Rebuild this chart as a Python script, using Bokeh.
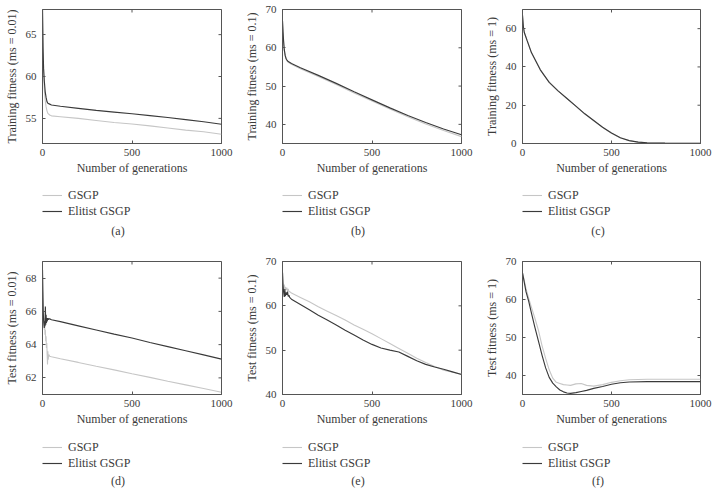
import math
from bokeh.plotting import figure
from bokeh.models import Range1d, FixedTicker, Legend, LegendItem, Label
from bokeh.layouts import row, column
from bokeh.embed import file_html
from bokeh.resources import INLINE

# ---------------- data ----------------
X_TICKS = [0, 500, 1000]
X_LABEL = "Number of generations"
SERIES = ["GSGP", "Elitist GSGP"]

# (a) Training fitness, ms = 0.01
a_gen = [0, 3, 6, 10, 15, 20, 25, 30, 40, 50, 100, 200, 300, 400, 500, 600, 700, 800, 900, 1000]
a_gsgp = [68.0, 63.0, 60.5, 58.5, 57.2, 56.4, 55.9, 55.6, 55.4, 55.3, 55.2, 55.0, 54.75, 54.5, 54.33, 54.1, 53.85, 53.6, 53.4, 53.1]
a_elit = [68.0, 63.5, 61.0, 59.5, 58.2, 57.5, 57.0, 56.8, 56.7, 56.6, 56.45, 56.2, 55.95, 55.75, 55.55, 55.33, 55.1, 54.85, 54.6, 54.3]

# (b) Training fitness, ms = 0.1
b_gen = [0, 3, 6, 10, 15, 20, 25, 30, 50, 100, 200, 300, 400, 500, 600, 700, 800, 900, 1000]
b_gsgp = [67.0, 64.0, 61.5, 59.2, 57.8, 57.0, 56.6, 56.3, 55.7, 54.5, 52.5, 50.4, 48.2, 46.1, 44.0, 42.0, 40.1, 38.4, 36.8]
b_elit = [67.0, 64.2, 61.8, 59.5, 58.0, 57.2, 56.8, 56.5, 55.9, 54.8, 52.8, 50.7, 48.5, 46.4, 44.3, 42.3, 40.5, 38.8, 37.3]

# (c) Training fitness, ms = 1
c_gen = [0, 5, 10, 25, 50, 100, 150, 200, 250, 300, 350, 400, 450, 500, 550, 600, 650, 700, 800, 900, 1000]
c_gsgp = [67.0, 61.0, 58.2, 54.2, 47.6, 38.6, 32.0, 27.4, 23.4, 19.4, 15.4, 11.9, 8.4, 5.4, 2.9, 1.4, 0.7, 0.4, 0.2, 0.1, 0.1]
c_elit = [67.0, 61.0, 58.0, 54.0, 47.5, 38.5, 31.9, 27.5, 23.5, 19.5, 15.5, 12.0, 8.5, 5.5, 3.0, 1.5, 0.7, 0.4, 0.2, 0.1, 0.1]

# (d) Test fitness, ms = 0.01
d_gen = [0, 2, 4, 6, 8, 10, 12, 14, 16, 18, 20, 22, 24, 26, 28, 30, 32, 35, 40, 50, 100, 200, 300, 400, 500, 600, 700, 800, 900, 1000]
d_gsgp = [68.2, 66.8, 65.8, 65.3, 65.6, 64.9, 65.2, 64.6, 64.9, 64.2, 64.5, 63.8, 64.1, 63.4, 62.8, 63.6, 63.1, 63.4, 63.3, 63.27, 63.15, 62.93, 62.7, 62.48, 62.25, 62.03, 61.8, 61.58, 61.36, 61.14]
d_elit = [68.5, 67.2, 66.0, 65.5, 65.2, 65.0, 65.4, 65.1, 66.3, 65.2, 65.8, 65.3, 65.6, 65.4, 65.5, 65.6, 65.5, 65.55, 65.55, 65.5, 65.38, 65.13, 64.88, 64.63, 64.4, 64.13, 63.88, 63.63, 63.38, 63.13]

# (e) Test fitness, ms = 0.1
e_gen = [0, 3, 6, 10, 13, 16, 20, 24, 28, 32, 36, 40, 50, 100, 150, 200, 250, 300, 350, 400, 450, 500, 550, 600, 650, 700, 750, 800, 850, 900, 950, 1000]
e_gsgp = [67.5, 65.0, 64.0, 64.8, 63.5, 64.3, 63.6, 64.1, 63.3, 63.8, 63.2, 63.2, 62.9, 61.9, 60.9, 59.8, 58.8, 57.8, 56.8, 55.7, 54.7, 53.7, 52.6, 51.5, 50.4, 49.3, 48.2, 47.2, 46.3, 45.5, 45.0, 44.6]
e_elit = [67.5, 64.5, 63.2, 62.0, 63.8, 62.2, 63.0, 62.5, 63.2, 62.1, 62.4, 61.9, 61.5, 60.3, 59.1, 57.9, 56.8, 55.7, 54.5, 53.4, 52.3, 51.3, 50.5, 50.0, 49.6, 48.6, 47.6, 46.8, 46.2, 45.7, 45.1, 44.5]

# (f) Test fitness, ms = 1
f_gen = [0, 10, 20, 35, 50, 70, 90, 110, 130, 150, 170, 190, 210, 230, 250, 270, 300, 330, 360, 400, 450, 500, 550, 600, 700, 800, 900, 1000]
f_gsgp = [67.0, 65.0, 62.8, 60.3, 58.0, 55.0, 51.8, 47.8, 44.5, 41.5, 39.3, 38.2, 37.9, 37.6, 37.5, 37.4, 37.8, 37.9, 37.4, 37.2, 37.6, 38.2, 38.6, 38.9, 39.0, 39.0, 39.0, 39.0]
f_elit = [67.0, 64.5, 62.0, 59.5, 56.5, 52.6, 49.0, 45.3, 42.0, 39.5, 38.0, 37.0, 36.2, 35.7, 35.4, 35.3, 35.5, 35.8, 36.1, 36.6, 37.1, 37.7, 38.1, 38.3, 38.4, 38.4, 38.4, 38.4]

PANELS = [
    (a_gen, a_gsgp, a_elit, (52, 68), [55, 60, 65], "Training fitness (ms = 0.01)", "(a)"),
    (b_gen, b_gsgp, b_elit, (35, 70), [40, 50, 60, 70], "Training fitness (ms = 0.1)", "(b)"),
    (c_gen, c_gsgp, c_elit, (0, 70), [0, 20, 40, 60], "Training fitness (ms = 1)", "(c)"),
    (d_gen, d_gsgp, d_elit, (61, 69), [62, 64, 66, 68], "Test fitness (ms = 0.01)", "(d)"),
    (e_gen, e_gsgp, e_elit, (40, 70), [40, 50, 60, 70], "Test fitness (ms = 0.1)", "(e)"),
    (f_gen, f_gsgp, f_elit, (35, 70), [40, 50, 60, 70], "Test fitness (ms = 1)", "(f)"),
]

# ---------------- style ----------------
FONT = "Liberation Serif"
GSGP_COLOR = "#c6c6c6"
ELIT_COLOR = "#3a3a3a"
AXIS_COLOR = "#555555"
TEXT_COLOR = "#3a3a3a"
LEFT = 42
GSGP_W = 1.1
ELIT_W = 1.15


def style_axis(ax, ticks):
    ax.ticker = FixedTicker(ticks=ticks)
    ax.axis_line_color = AXIS_COLOR
    ax.axis_line_width = 1
    ax.major_tick_line_color = AXIS_COLOR
    ax.major_tick_in = 3
    ax.major_tick_out = 0
    ax.minor_tick_line_color = None
    ax.major_label_text_font = FONT
    ax.major_label_text_color = TEXT_COLOR
    ax.major_label_text_font_size = "11px"
    ax.major_label_standoff = 5
    ax.axis_label_text_font = FONT
    ax.axis_label_text_font_size = "12px"
    ax.axis_label_text_font_style = "normal"
    ax.axis_label_text_color = TEXT_COLOR


def make_plot(gen, gsgp, elit, yr, yticks, ylabel, width, top, frame_w, frame_h):
    bottom = 35
    right = width - LEFT - frame_w
    height = top + frame_h + bottom
    p = figure(width=width, height=height, output_backend="svg", toolbar_location=None,
               x_range=Range1d(0, 1000), y_range=Range1d(*yr),
               min_border_left=LEFT, min_border_right=right, min_border_top=top, min_border_bottom=bottom,
               x_axis_label=X_LABEL, y_axis_label=ylabel)
    p.grid.visible = False
    p.outline_line_color = AXIS_COLOR
    p.background_fill_color = "white"
    p.border_fill_color = "white"
    style_axis(p.xaxis[0], X_TICKS)
    style_axis(p.yaxis[0], yticks)
    p.xaxis[0].axis_label_standoff = 2
    p.yaxis[0].axis_label_standoff = 4
    p.yaxis[0].major_label_standoff = 6

    # inner ticks on the top and right edges of the box
    p.scatter(x=X_TICKS, y=[yr[1]] * len(X_TICKS), marker="dash", angle=math.pi / 2,
              size=6, line_color=AXIS_COLOR, line_width=1)
    p.scatter(x=[1000] * len(yticks), y=yticks, marker="dash",
              size=6, line_color=AXIS_COLOR, line_width=1)

    p.line(gen, gsgp, line_color=GSGP_COLOR, line_width=GSGP_W)
    p.line(gen, elit, line_color=ELIT_COLOR, line_width=ELIT_W)
    return p


def make_legend(gen, gsgp, elit, caption, width, height, leg_y, cap_y):
    # strip below each plot holding its legend and caption; the series are
    # attached (off-view) only so that the legend can draw their line styles.
    # The column layout aligns this strip's frame with the plot frame above.
    q = figure(width=width, height=height, output_backend="svg", toolbar_location=None,
               x_range=Range1d(-3000, -2000), y_range=Range1d(-3000, -2000),
               x_axis_location=None, y_axis_location=None,
               min_border_left=0, min_border_right=0, min_border_top=0, min_border_bottom=0)
    q.grid.visible = False
    q.outline_line_color = None
    q.border_fill_color = "white"
    r1 = q.line(gen, gsgp, line_color=GSGP_COLOR, line_width=GSGP_W)
    r2 = q.line(gen, elit, line_color=ELIT_COLOR, line_width=ELIT_W)
    legend = Legend(items=[LegendItem(label=SERIES[0], renderers=[r1]),
                           LegendItem(label=SERIES[1], renderers=[r2])],
                    location=(0, leg_y), orientation="vertical",
                    glyph_width=20, glyph_height=16, label_height=16, spacing=0,
                    padding=0, margin=0, label_standoff=6,
                    label_text_font=FONT, label_text_font_size="12px", label_text_color=TEXT_COLOR,
                    border_line_color=None, background_fill_alpha=0)
    q.add_layout(legend)
    cap = Label(x=117.5 - LEFT, y=cap_y, x_units="screen", y_units="screen", text=caption,
                text_align="center", text_baseline="middle",
                text_font=FONT, text_font_size="12px", text_color=TEXT_COLOR)
    q.add_layout(cap)
    return q


cols = []
for i, (gen, g, e, yr, yt, yl, cap) in enumerate(PANELS):
    r = i // 3
    c = i % 3
    width = 240 if c < 2 else 236
    fw = 179 if c < 2 else 178
    if r == 0:
        p = make_plot(gen, g, e, yr, yt, yl, width, 9, fw, 134)      # height 178
        q = make_legend(gen, g, e, cap, width, 67, 26, 15)
    else:
        p = make_plot(gen, g, e, yr, yt, yl, width, 16, fw, 133)     # height 184
        q = make_legend(gen, g, e, cap, width, 60, 18, 9)
    cols.append(column(p, q, spacing=0))

layout = column(row(*cols[:3], spacing=0), row(*cols[3:], spacing=0), spacing=0)
open("out.html", "w").write(file_html(layout, INLINE))
